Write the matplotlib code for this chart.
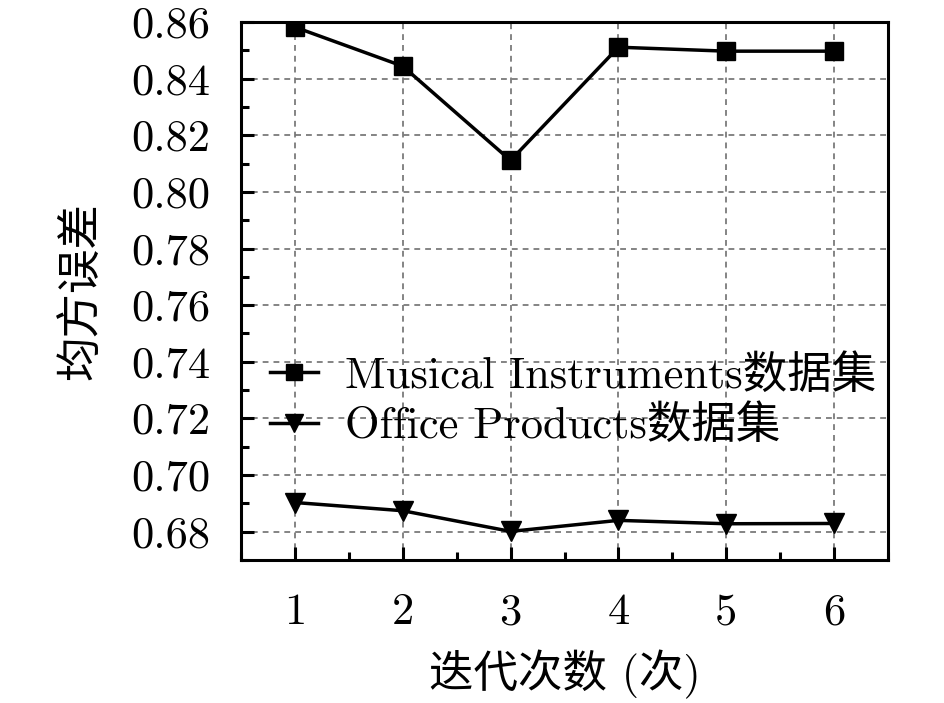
import matplotlib
matplotlib.use("Agg")
import matplotlib.pyplot as plt
from matplotlib.ticker import MultipleLocator

plt.rcParams['font.family'] = ['cmr10', 'Noto Sans CJK SC', 'DejaVu Sans']
plt.rcParams['axes.formatter.use_mathtext'] = True

iterations = [1, 2, 3, 4, 5, 6]
musical = [0.8582, 0.8444, 0.8111, 0.8511, 0.8497, 0.8497]
office = [0.6903, 0.6874, 0.6801, 0.6840, 0.6828, 0.6829]
yticks = [0.68, 0.70, 0.72, 0.74, 0.76, 0.78, 0.80, 0.82, 0.84, 0.86]
ytick_labels = ["0.68", "0.70", "0.72", "0.74", "0.76", "0.78", "0.80", "0.82", "0.84", "0.86"]
xtick_labels = ["1", "2", "3", "4", "5", "6"]
label_musical = "Musical Instruments数据集"
label_office = "Office Products数据集"
xlabel = "迭代次数 (次)"
ylabel = "均方误差"

fig = plt.figure(figsize=(9.45, 7.03), dpi=100)
ax = fig.add_axes([241/945, 1 - 560/703, (888-241)/945, (560-22)/703])

ax.plot(iterations, musical, color='black', lw=2.5, marker='s', ms=13, label=label_musical, zorder=3)
ax.plot(iterations, office, color='black', lw=2.5, marker='v', ms=15, label=label_office, zorder=3)

ax.set_xlim(0.5, 6.5)
ax.set_ylim(0.67, 0.86)
ax.set_xticks(iterations)
ax.set_xticklabels(xtick_labels)
ax.set_yticks(yticks)
ax.set_yticklabels(ytick_labels)
ax.xaxis.set_minor_locator(MultipleLocator(0.5))
ax.yaxis.set_minor_locator(MultipleLocator(0.01))

ax.grid(True, which='major', linestyle=(0, (3.5, 3)), color='#707070', lw=1.2)
ax.set_axisbelow(True)

for s in ax.spines.values():
    s.set_linewidth(2.2)

ax.tick_params(which='major', direction='in', length=9.5, width=2.2, labelsize=32)
ax.tick_params(which='minor', direction='in', length=6, width=2.2)
ax.tick_params(axis='y', pad=22)
ax.tick_params(axis='x', pad=24)

ax.set_xlabel(xlabel, fontsize=32, labelpad=12)
ax.set_ylabel(ylabel, fontsize=32, labelpad=20)

leg = ax.legend(loc='center left', bbox_to_anchor=(0.045, 0.2955), frameon=False,
                fontsize=32, handlelength=1.08, handletextpad=0.6, labelspacing=0.2,
                borderaxespad=0, borderpad=0, markerscale=0.85)

fig.savefig("out.png", dpi=100)
